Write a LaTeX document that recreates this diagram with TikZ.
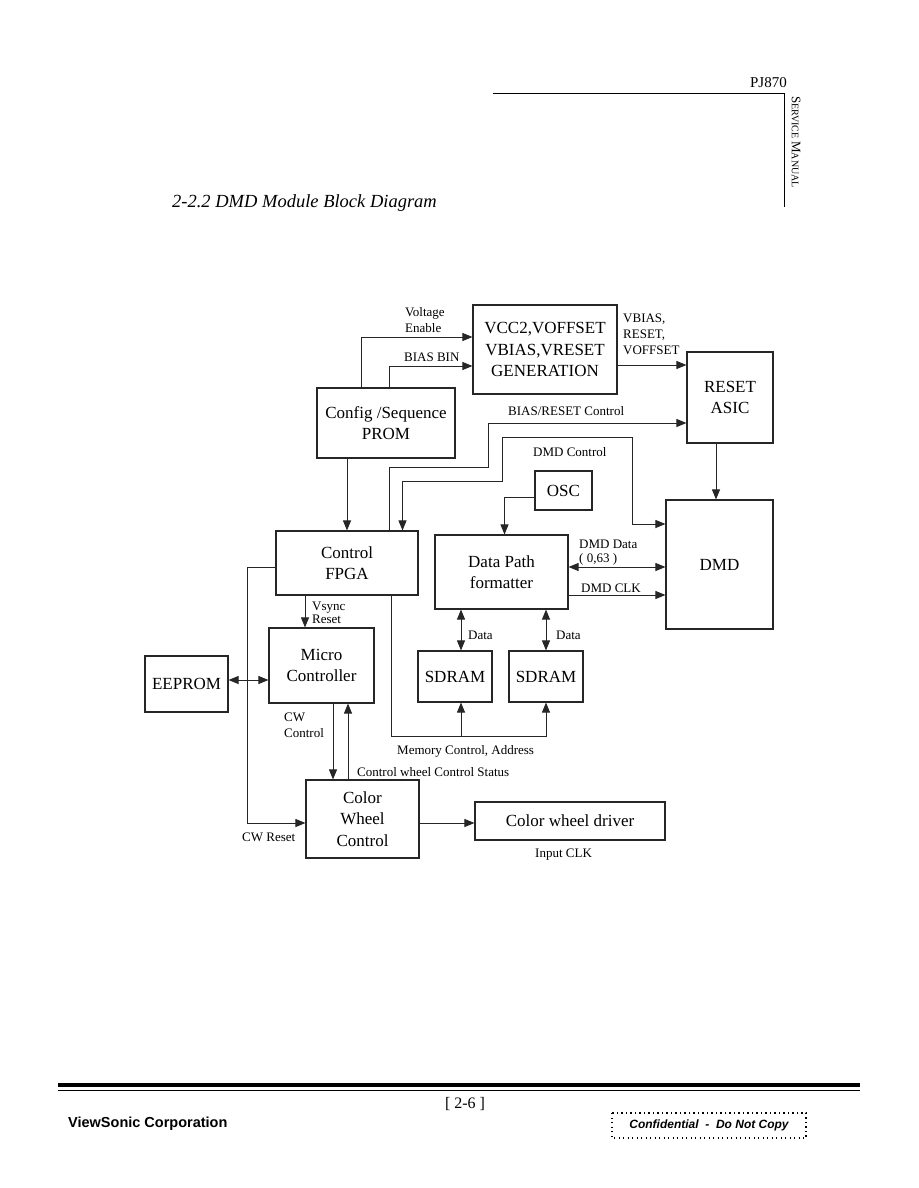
\documentclass[tikz,border=0pt]{standalone}
\usepackage{fontspec}
\setmainfont{Liberation Serif}
\setsansfont{Liberation Sans}
\usetikzlibrary{arrows.meta}

\newcommand{\boxfont}{\fontsize{17}{21.5}\selectfont}
\newcommand{\lblfont}{\fontsize{13}{16}\selectfont}

\begin{document}
\begin{tikzpicture}[
  x=1pt, y=-1pt,
  block/.style={
    draw=black!85,
    line width=1.1pt,
    fill=white,
    align=center,
    inner sep=0pt,
    font=\boxfont
  },
  lbl/.style={anchor=west, inner sep=0pt, align=left, font=\lblfont},
  arrow/.style={-{Triangle[length=10pt,width=8pt]}, line width=0.9pt, draw=black!85},
  biarrow/.style={{Triangle[length=10pt,width=8pt]}-{Triangle[length=10pt,width=8pt]}, line width=0.9pt, draw=black!85}
]

\fill[white] (0,0) rectangle (918,1188);
\useasboundingbox (0,0) rectangle (918,1188);

% page header
\node[anchor=east, inner sep=0pt, font=\fontsize{15}{15}\selectfont] (model) at (787,83) {PJ870};
\draw[line width=1pt] (493,94) -- (784,94) -- (784,207);
\node[rotate=-90, inner sep=0pt, font=\fontsize{10}{10}\selectfont] (manual) at (796,142)
  {{\fontsize{13}{13}\selectfont S}ERVICE {\fontsize{13}{13}\selectfont M}ANUAL};
\node[anchor=west, inner sep=0pt, font=\fontsize{18.5}{20}\selectfont\itshape] (title) at (172,203)
  {2-2.2 DMD Module Block Diagram};

% blocks
\node[block, minimum width=144pt, minimum height=89pt] (vccgen) at (545,349.5) {VCC2,VOFFSET\\VBIAS,VRESET\\GENERATION};
\node[block, minimum width=86pt, minimum height=91pt] (rasic) at (730,397.5) {RESET\\ASIC};
\node[block, minimum width=138pt, minimum height=70pt] (prom) at (386,423) {Config /Sequence\\PROM};
\node[block, minimum width=57pt, minimum height=39pt] (osc) at (563.5,490.5) {OSC};
\node[block, minimum width=142pt, minimum height=64pt] (fpga) at (347,563) {Control\\FPGA};
\node[block, minimum width=133pt, minimum height=74pt] (dpf) at (501.5,572) {Data Path\\formatter};
\node[block, minimum width=107pt, minimum height=129pt] (dmd) at (719.5,564.5) {DMD};
\node[block, minimum width=105pt, minimum height=75pt] (micro) at (321.5,665.5) {Micro\\Controller};
\node[block, minimum width=83pt, minimum height=56pt] (eeprom) at (186.5,684) {EEPROM};
\node[block, minimum width=74pt, minimum height=51pt] (sdrama) at (455,676.5) {SDRAM};
\node[block, minimum width=74pt, minimum height=51pt] (sdramb) at (546,676.5) {SDRAM};
\node[block, minimum width=113pt, minimum height=78pt] (cwc) at (362.5,819) {Color\\Wheel\\Control};
\node[block, minimum width=190pt, minimum height=38pt] (cwd) at (570,821) {Color wheel driver};

% labels
\node[lbl] (lvolt) at (405,320) {Voltage\\Enable};
\node[lbl] (lbin) at (404,357) {BIAS BIN};
\node[lbl] (lvbias) at (623,334) {VBIAS,\\RESET,\\VOFFSET};
\node[lbl] (lbrc) at (508,411) {BIAS/RESET Control};
\node[lbl] (ldmdc) at (533,452) {DMD Control};
\node[lbl] (lvsync) at (312,613) {Vsync\\[-3.5pt]Reset};
\node[lbl] (ldmdd) at (579,553) {DMD Data\\[-2pt]( 0,63 )};
\node[lbl] (lclk) at (581,588) {DMD CLK};
\node[lbl] (ldataa) at (468,635) {Data};
\node[lbl] (ldatab) at (556,635) {Data};
\node[lbl] (lcwc) at (284,725) {CW\\Control};
\node[lbl] (lmem) at (397,751) {Memory Control, Address};
\node[lbl] (lstat) at (357,772) {Control wheel Control Status};
\node[lbl] (lcwr) at (242,837) {CW Reset};
\node[lbl] (lclkin) at (535,855) {Input CLK};

% connectors
\draw[arrow] ([xshift=-25pt]prom.north) |- ([yshift=12.5pt]vccgen.west);
\draw[arrow] ([xshift=3pt]prom.north) |- ([yshift=-16.5pt]vccgen.west);
\draw[arrow] ([yshift=-15.5pt]vccgen.east) -- ([yshift=-15.5pt]vccgen.east -| rasic.west);
\draw[arrow] ([xshift=42pt]fpga.north) |- (488,467) |- ([yshift=-25.5pt]rasic.west);
\draw[biarrow] ([xshift=55.5pt]fpga.north) |- (502,481) |- (632,437) |- ([yshift=40.5pt]dmd.west);
\draw[arrow] (prom.south -| fpga.north) -- (fpga.north);
\draw[arrow] ([yshift=-6.5pt]osc.west) -| ([xshift=3pt]dpf.north);
\draw[arrow] ([xshift=-14pt]rasic.south) -- ([xshift=-14pt]rasic.south |- dmd.north);
\draw[biarrow] ([yshift=5pt]dpf.east) -- ([yshift=5pt]dpf.east -| dmd.west);
\draw[arrow] ([yshift=-23pt]dpf.east) -- ([yshift=-23pt]dpf.east -| dmd.west);
\draw[biarrow] ([xshift=6pt]sdrama.north) -- ([xshift=6pt]sdrama.north |- dpf.south);
\draw[biarrow] (sdramb.north) -- (sdramb.north |- dpf.south);
\draw[arrow] ([xshift=44pt]fpga.south) |- ([yshift=-34pt]sdramb.south) -- (sdramb.south);
\draw[arrow] ([xshift=6pt,yshift=-34pt]sdrama.south) -- ([xshift=6pt]sdrama.south);
\draw[arrow] ([xshift=-42pt]fpga.south) -- ([xshift=-42pt]fpga.south |- micro.north);
\draw[biarrow] ([yshift=4pt]eeprom.east) -- ([yshift=4pt]eeprom.east -| micro.west);
\draw[arrow] ([yshift=-4pt]fpga.west) -- ++(-28,0) |- ([yshift=-4pt]cwc.west);
\draw[arrow] ([xshift=11.5pt]micro.south) -- ([xshift=11.5pt]micro.south |- cwc.north);
\draw[arrow] ([xshift=26.5pt]micro.south |- cwc.north) -- ([xshift=26.5pt]micro.south);
\draw[arrow] ([yshift=-4pt]cwc.east) -- ([yshift=-4pt]cwc.east -| cwd.west);

% page footer
\draw[line width=4pt] (58,1084.5) -- (860,1084.5);
\draw[line width=1pt] (58,1090) -- (860,1090);
\node[inner sep=0pt, font=\fontsize{16}{16}\selectfont] (pageno) at (465,1104) {[ 2-6 ]};
\node[anchor=west, inner sep=0pt, font=\fontsize{14.5}{15}\sffamily\bfseries] (company) at (68,1124) {ViewSonic Corporation};
\draw[line width=1.3pt, dash pattern=on 1.3pt off 3.2pt] (612,1113) rectangle (806,1138);
\node[inner sep=0pt, font=\fontsize{12}{12}\sffamily\bfseries\itshape] (conf) at (709,1125.5) {Confidential\ \ -\ \ Do Not Copy};

\end{tikzpicture}
\end{document}
